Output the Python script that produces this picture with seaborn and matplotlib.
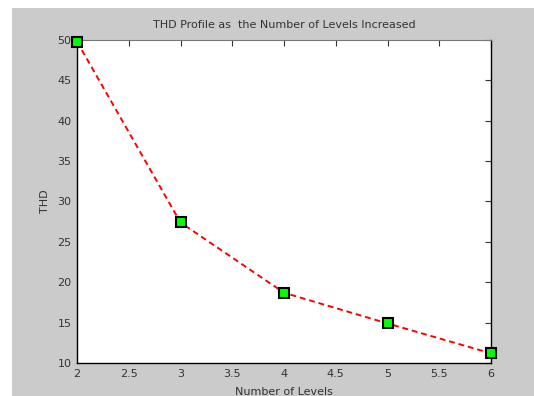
import matplotlib
matplotlib.use("Agg")
import matplotlib.pyplot as plt
import seaborn as sns
import pandas as pd
from matplotlib.patches import Rectangle

levels = [2, 3, 4, 5, 6]
thd = [49.8, 27.4, 18.7, 14.9, 11.2]
x_ticks = [2, 2.5, 3, 3.5, 4, 4.5, 5, 5.5, 6]
y_ticks = [10, 15, 20, 25, 30, 35, 40, 45, 50]

sns.set_style("white")
plt.rcParams['font.family'] = ['DejaVu Sans']

fig = plt.figure(figsize=(5.34, 3.96), dpi=100, facecolor='white')
fig.patches.append(Rectangle((12/534, 0), 1 - 12/534, 1 - 8/396,
                             transform=fig.transFigure, facecolor='#cbcbcb',
                             edgecolor='none', zorder=-10))
ax = fig.add_axes([77/534, 33/396, 414/534, 323/396])
ax.set_facecolor('white')
ax.set_zorder(1)

df = pd.DataFrame({"Number of Levels": levels, "THD": thd})
sns.lineplot(data=df, x="Number of Levels", y="THD", ax=ax, color='red',
             linestyle=(0, (3, 2)), linewidth=1.4, marker='s', markersize=7,
             markerfacecolor='#00ff00', markeredgecolor='black',
             markeredgewidth=1.5, clip_on=False, zorder=5)

ax.set_xlim(2, 6)
ax.set_ylim(10, 50)
ax.set_xticks(x_ticks)
ax.set_xticklabels([f"{t:g}" for t in x_ticks])
ax.set_yticks(y_ticks)
ax.tick_params(direction='in', length=4, width=0.8, top=True, right=True,
               labelsize=8, labelcolor='#333333', color='#333333', pad=4)
for s in ['left', 'bottom', 'right']:
    ax.spines[s].set_color('black')
    ax.spines[s].set_linewidth(1.0)
ax.spines['top'].set_color('#777777')
ax.spines['top'].set_linewidth(0.8)

ax.set_title("THD Profile as  the Number of Levels Increased", fontsize=8,
             color='#333333', pad=9)
ax.set_xlabel("Number of Levels", fontsize=8, color='#333333', labelpad=6)
ax.set_ylabel("THD", fontsize=8, color='#333333', labelpad=5)

fig.savefig("out.png", dpi=100, facecolor=fig.get_facecolor())
